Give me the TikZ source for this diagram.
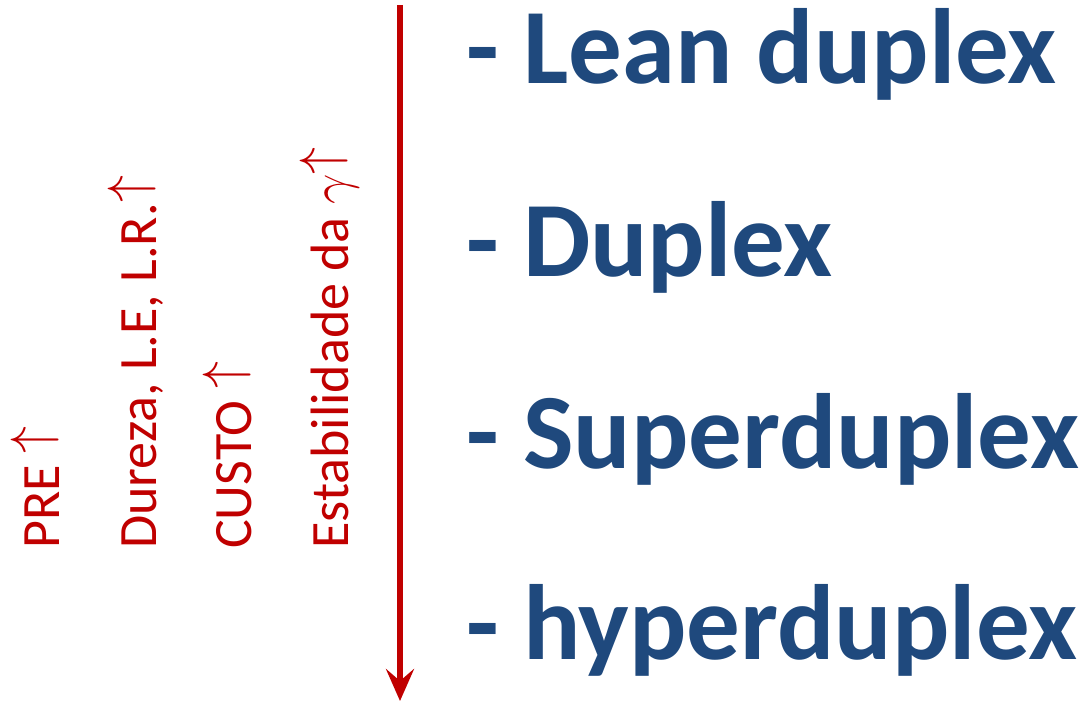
\RequirePackage{fix-cm}
\documentclass[tikz,border=0pt]{standalone}
\usepackage{fontspec}
\setmainfont{Carlito}
\usetikzlibrary{arrows.meta}
\definecolor{r}{HTML}{C00000}
\definecolor{bl}{HTML}{1F497D}
\newcommand{\uparr}{\raisebox{0.19em}{$\uparrow$}}

\begin{document}
\begin{tikzpicture}[x=1pt, y=-1pt,
		item/.style={anchor=base west, inner sep=0pt, text=bl, font=\fontsize{107}{115}\selectfont\bfseries},
		prop/.style={anchor=base west, inner sep=0pt, rotate=90, text=r, font=\fontsize{54}{60}\selectfont},
		arrow/.style={draw=r, line width=6pt, -{Stealth[length=32pt, width=28pt, inset=12pt]}}
	]
	\useasboundingbox (0, 0) rectangle (1081, 701);

	% properties
	\node[prop] (pre) at (59, 549) {PRE \uparr};
	\node[prop] (dureza) at (156, 549) {Dureza, L.E, L.R.\uparr};
	\node[prop] (custo) at (251, 549) {CUSTO \uparr};
	\node[prop] (estab) at (348, 549) {Estabilidade da $\gamma$\uparr};

	% arrow
	\coordinate (top) at (400, 5);
	\coordinate (bottom) at (400, 701);
	\draw[arrow] (top) -- (bottom);

	% classes
	\foreach \t/\y [count=\i] in {Lean duplex/83, Duplex/276, Superduplex/468, hyperduplex/659} {
		\node[item] (item-\i) at (466, \y) {- \t};
	}
\end{tikzpicture}
\end{document}
